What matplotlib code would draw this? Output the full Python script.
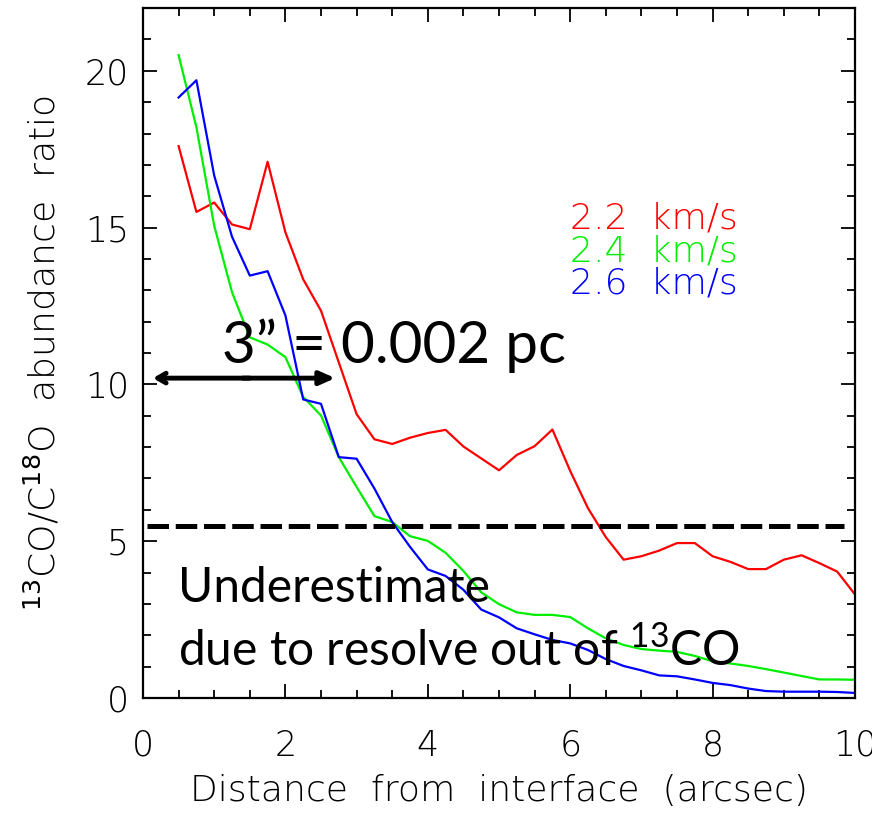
import matplotlib
matplotlib.use("Agg")
import matplotlib.pyplot as plt
from matplotlib.ticker import MultipleLocator

plt.rcParams["mathtext.fontset"] = "custom"
plt.rcParams["mathtext.rm"] = "Lato"
plt.rcParams["mathtext.sf"] = "DejaVu Sans"

# distance from interface (arcsec)
dist = [0.5, 0.75, 1.0, 1.25, 1.5, 1.75, 2.0, 2.25, 2.5, 2.75,
        3.0, 3.25, 3.5, 3.75, 4.0, 4.25, 4.5, 4.75, 5.0, 5.25,
        5.5, 5.75, 6.0, 6.25, 6.5, 6.75, 7.0, 7.25, 7.5, 7.75,
        8.0, 8.25, 8.5, 8.75, 9.0, 9.25, 9.5, 9.75, 10.0]

# 13CO/C18O abundance ratio per velocity channel
ratio_22 = [17.6, 15.5, 15.8, 15.1, 14.95, 17.1, 14.85, 13.35, 12.35, 10.7,
            9.05, 8.25, 8.1, 8.3, 8.45, 8.55, 8.02, 7.64, 7.26, 7.75,
            8.03, 8.56, 7.24, 6.05, 5.13, 4.41, 4.52, 4.7, 4.94, 4.94,
            4.52, 4.34, 4.11, 4.11, 4.41, 4.55, 4.3, 4.03, 3.3]
ratio_24 = [20.5, 18.2, 15.06, 12.94, 11.5, 11.27, 10.87, 9.6, 9.01, 7.68,
            6.73, 5.8, 5.61, 5.16, 5.01, 4.63, 4.05, 3.37, 2.99, 2.73,
            2.65, 2.65, 2.58, 2.22, 1.9, 1.69, 1.56, 1.51, 1.47, 1.34,
            1.17, 1.1, 1.02, 0.92, 0.81, 0.7, 0.59, 0.59, 0.58]
ratio_26 = [19.15, 19.7, 16.66, 14.71, 13.47, 13.61, 12.2, 9.52, 9.38, 7.68,
            7.63, 6.68, 5.61, 4.82, 4.1, 3.89, 3.45, 2.82, 2.57, 2.22,
            2.03, 1.85, 1.74, 1.53, 1.24, 1.02, 0.88, 0.72, 0.69, 0.59,
            0.48, 0.41, 0.3, 0.22, 0.2, 0.2, 0.2, 0.19, 0.16]

labels = ["2.2  km/s", "2.4  km/s", "2.6  km/s"]
colors = ["#ff0000", "#00ee00", "#0000ff"]

threshold = 5.5
threshold_x = [0.05, 9.85]

idl_font = dict(family="DejaVu Sans", fontweight="light")

fig = plt.figure(figsize=(8.72, 8.13), dpi=100)
ax = fig.add_axes([0.164, 0.1415, 0.8165, 0.8485])

for y, c in zip([ratio_22, ratio_24, ratio_26], colors):
    ax.plot(dist, y, color=c, lw=1.6)

ax.plot(threshold_x, [threshold, threshold], color="black", lw=3.6,
        linestyle=(0, (4.3, 1.35)), solid_capstyle="butt")

ax.set_xlim(0, 10)
ax.set_ylim(0, 22)
ax.xaxis.set_major_locator(MultipleLocator(2))
ax.xaxis.set_minor_locator(MultipleLocator(0.5))
ax.yaxis.set_major_locator(MultipleLocator(5))
ax.yaxis.set_minor_locator(MultipleLocator(1))
ax.tick_params(which="both", direction="in", top=True, right=True, width=1.3)
ax.tick_params(which="major", length=10)
ax.tick_params(which="minor", length=6)
ax.tick_params(axis="x", which="major", pad=22)
ax.tick_params(axis="y", which="major", pad=10)
for lab in ax.get_xticklabels() + ax.get_yticklabels():
    lab.set_fontsize(25)
    lab.set_fontweight("light")
for s in ax.spines.values():
    s.set_linewidth(1.6)

ax.set_xlabel("Distance  from  interface  (arcsec)", fontsize=26, labelpad=8, **idl_font)
ax.set_ylabel(r"$^{\mathsf{13}}$CO/C$^{\mathsf{18}}$O  abundance  ratio",
              fontsize=26, labelpad=16, **idl_font)

# velocity channel labels
for i, (lab, c) in enumerate(zip(labels, colors)):
    ax.text(6.0, 15.29 - 1.04 * i, lab, color=c, fontsize=26,
            ha="left", va="center", **idl_font)

# scale bar
ax.annotate("", xy=(0.14, 10.2), xytext=(1.5, 10.2),
            arrowprops=dict(arrowstyle="->,head_length=0.6,head_width=0.35",
                            color="black", lw=3.5, shrinkA=0, shrinkB=0))
ax.annotate("", xy=(2.7, 10.2), xytext=(1.4, 10.2),
            arrowprops=dict(arrowstyle="-|>,head_length=0.9,head_width=0.4",
                            color="black", lw=3.5, shrinkA=0, shrinkB=0))
ax.text(1.11, 11.24, "3\u201d = 0.002 pc", fontsize=42, family="Lato",
        ha="left", va="center")

ax.text(0.49, 3.5, "Underestimate", fontsize=34.5, family="Lato",
        ha="left", va="center")
ax.text(0.49, 1.53, r"due to resolve out of $^{13}$CO", fontsize=34.5, family="Lato",
        ha="left", va="center")

fig.savefig("out.png", dpi=100)
